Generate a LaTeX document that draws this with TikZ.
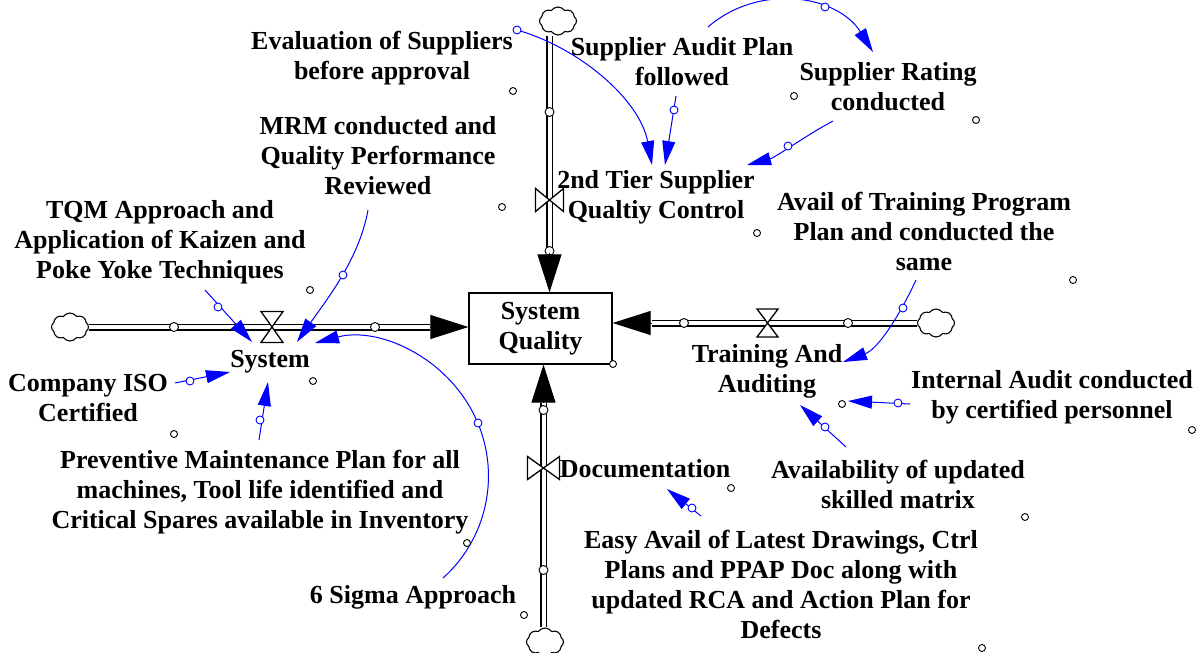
\documentclass[tikz,border=0pt]{standalone}
\usepackage{fontspec}
\setmainfont{Liberation Serif}
\usetikzlibrary{arrows.meta,shapes.symbols}
\begin{document}
\begin{tikzpicture}[x=1pt,y=-1pt,
  lbl/.style={align=center,inner sep=0pt,font=\fontsize{26pt}{30pt}\selectfont\bfseries},
  causal/.style={draw=blue,line width=1pt,-{Triangle[length=24pt,width=13pt]}},
  pipe/.style={draw,line width=1.5pt,double=white,double distance=4pt},
  flowarr/.style={draw,line width=1pt,-{Triangle[length=38pt,width=24pt]}},
  valve/.style={draw,fill=white,line width=1.3pt,line join=miter},
  cloudn/.style={cloud,draw,cloud puffs=8,cloud puff arc=110,aspect=1.35,minimum width=37pt,minimum height=28pt,inner sep=0pt,line width=1.1pt},
  khandle/.style={circle,draw=black,fill=white,line width=0.9pt,minimum size=7pt,inner sep=0pt},
  bhandle/.style={circle,draw=blue,fill=white,line width=0.9pt,minimum size=8pt,inner sep=0pt},
  pcirc/.style={circle,draw=black,fill=white,line width=0.9pt,minimum size=9pt,inner sep=0pt}]
\useasboundingbox (0,0) rectangle (1199,653);
\fill[white] (0,0) rectangle (1199,653);

% labels
\node[lbl] (eval) at (382,58) {Evaluation of Suppliers\\before approval};
\node[lbl] (audit) at (682,62) {Supplier Audit Plan\\followed};
\node[lbl] (rating) at (888,87) {Supplier Rating\\conducted};
\node[lbl] (mrm) at (378,156) {MRM conducted and\\Quality Performance\\Reviewed};
\node[lbl] (tier) at (656,197) {2nd Tier Supplier\\Qualtiy Control};
\node[lbl] (tqm) at (160,242) {TQM Approach and\\Application of Kaizen and\\Poke Yoke Techniques};
\node[lbl] (train) at (924,231) {Avail of Training Program\\Plan and conducted the\\same};
\node[lbl] (system) at (270,362) {System};
\node[lbl,draw,line width=1.3pt,minimum width=143pt,minimum height=71pt] (sq) at (540.5,328.5) {System\\Quality};
\node[lbl] (company) at (88,398) {Company ISO\\Certified};
\node[lbl] (trainaud) at (767,371) {Training And\\Auditing};
\node[lbl] (internal) at (1052,397) {Internal Audit conducted\\by certified personnel};
\node[lbl] (prevent) at (260,492) {Preventive Maintenance Plan for all\\machines, Tool life identified and\\Critical Spares available in Inventory};
\node[lbl] (doc) at (645,469) {Documentation};
\node[lbl] (avail) at (898,484) {Availability of updated\\skilled matrix};
\node[lbl] (easy) at (781,584) {Easy Avail of Latest Drawings, Ctrl\\Plans and PPAP Doc along with\\updated RCA and Action Plan for\\Defects};
\node[lbl] (sigma) at (413,597) {6 Sigma Approach};

% clouds
\node[cloudn] (cloudL) at (70,327) {};
\node[cloudn] (cloudT) at (558,21) {};
\node[cloudn] (cloudR) at (936,323) {};
\node[cloudn] (cloudB) at (545,642) {};

% flow pipes
\coordinate (baseL) at (430,327);
\coordinate (baseT) at (549.5,253);
\coordinate (baseR) at (652,323);
\coordinate (baseB) at (543.5,403);
\draw[pipe] (cloudL.east) -- (baseL);
\draw[pipe] (baseT |- cloudT.south) -- (baseT);
\draw[pipe] (cloudR.west) -- (baseR);
\draw[pipe] (baseB |- cloudB.north) -- (baseB);

% valves
\draw[valve,shift={(272,327)}] (-11,-15.5) -- (11,-15.5) -- (-11,15.5) -- (11,15.5) -- cycle;
\draw[valve,shift={(549.5,200)}] (-14,-11.5) -- (-14,11.5) -- (14,-11.5) -- (14,11.5) -- cycle;
\draw[valve,shift={(767.5,323)}] (-10.5,-14) -- (10.5,-14) -- (-10.5,14) -- (10.5,14) -- cycle;
\draw[valve,shift={(543.5,468)}] (-16,-11.5) -- (-16,11.5) -- (16,-11.5) -- (16,11.5) -- cycle;

% pipe circles
\node[pcirc] (p1) at (174,327) {};
\node[pcirc] (p2) at (375,327) {};
\node[pcirc] (p3) at (549.5,112) {};
\node[pcirc] (p4) at (549.5,251) {};
\node[pcirc] (p5) at (684,323) {};
\node[pcirc] (p6) at (848,323) {};
\node[pcirc] (p7) at (543.5,410) {};
\node[pcirc] (p8) at (543.5,570) {};

% flow arrowheads
\draw[flowarr] (baseL) -- (baseL -| sq.west);
\draw[flowarr] (baseT) -- (baseT |- sq.north);
\draw[flowarr] (baseR) -- (baseR -| sq.east);
\draw[flowarr] (baseB) -- (baseB |- sq.south);

% connector coordinates
\coordinate (aT) at (517,30); \coordinate (aE) at (652,165);
\coordinate (bT) at (676,96); \coordinate (bH) at (674,110); \coordinate (bE) at (665,165);
\coordinate (cT) at (708,27); \coordinate (cH) at (825,7); \coordinate (cE) at (873,52);
\coordinate (dT) at (833,121); \coordinate (dH) at (788,146); \coordinate (dE) at (747,165);
\coordinate (eT) at (368,210); \coordinate (eH) at (343,275); \coordinate (eE) at (297,342);
\coordinate (fT) at (205,290); \coordinate (fH) at (218,307); \coordinate (fE) at (252,342);
\coordinate (gT) at (443,578); \coordinate (gM) at (471.8,410.4); \coordinate (gH) at (478,423); \coordinate (gE) at (315,343);
\coordinate (hT) at (175,383); \coordinate (hH) at (190,381); \coordinate (hE) at (230,372);
\coordinate (iT) at (259,440); \coordinate (iH) at (260,420); \coordinate (iE) at (268,382);
\coordinate (jT) at (916,280); \coordinate (jH) at (903,308); \coordinate (jE) at (843,362);
\coordinate (kT) at (910,404); \coordinate (kH) at (898,403); \coordinate (kE) at (848,401);
\coordinate (lT) at (846,447); \coordinate (lH) at (825,427); \coordinate (lE) at (800,405);
\coordinate (mT) at (701,516); \coordinate (mH) at (692,508); \coordinate (mE) at (667,489);

% causal links
\draw[causal] (aT) .. controls (580,48) and (640,100) .. (aE);
\draw[causal] (bT) -- (bE);
\draw[causal] (cT) .. controls (759,-17.3) and (837.2,-5.3) .. (cE);
\draw[causal] (dT) .. controls (806.5,135) and (776,157.2) .. (dE);
\draw[causal] (eT) .. controls (359.3,259.2) and (325.7,301) .. (eE);
\draw[causal] (fT) -- (fE);
\draw[causal] (gT) .. controls (490.3,535.6) and (502.1,466.3) .. (gM) .. controls (441.5,354.5) and (376.8,326.7) .. (gE);
\draw[causal] (hT) -- (hE);
\draw[causal] (iT) -- (iE);
\draw[causal] (jT) .. controls (900,314.5) and (878.6,348.7) .. (jE);
\draw[causal] (kT) -- (kE);
\draw[causal] (lT) -- (lE);
\draw[causal] (mT) -- (mE);

% link handles
\node[bhandle] (ha) at (aT) {};
\node[bhandle] (hb) at (bH) {};
\node[bhandle] (hc) at (cH) {};
\node[bhandle] (hd) at (dH) {};
\node[bhandle] (he) at (eH) {};
\node[bhandle] (hf) at (fH) {};
\node[bhandle] (hg) at (gH) {};
\node[bhandle] (hh) at (hH) {};
\node[bhandle] (hi) at (iH) {};
\node[bhandle] (hj) at (jH) {};
\node[bhandle] (hk) at (kH) {};
\node[bhandle] (hl) at (lH) {};
\node[bhandle] (hm) at (mH) {};

% variable handles
\node[khandle] (kEval) at (513,91) {};
\node[khandle] (kAudit) at (794,96) {};
\node[khandle] (kRating) at (976,120) {};
\node[khandle] (kMrm) at (502,207) {};
\node[khandle] (kTier) at (757,233) {};
\node[khandle] (kTqm) at (310,290) {};
\node[khandle] (kTrain) at (1073,280) {};
\node[khandle] (kSystem) at (313,381) {};
\node[khandle] (kSq) at (613,364) {};
\node[khandle] (kCompany) at (174,434) {};
\node[khandle] (kTrainAud) at (842,404) {};
\node[khandle] (kInternal) at (1192,430) {};
\node[khandle] (kAvail) at (1025,517) {};
\node[khandle] (kDoc) at (731,488) {};
\node[khandle] (kEasy) at (982,648) {};
\node[khandle] (kPrevent) at (467,543) {};
\node[khandle] (kSigma) at (524,615) {};
\end{tikzpicture}
\end{document}
